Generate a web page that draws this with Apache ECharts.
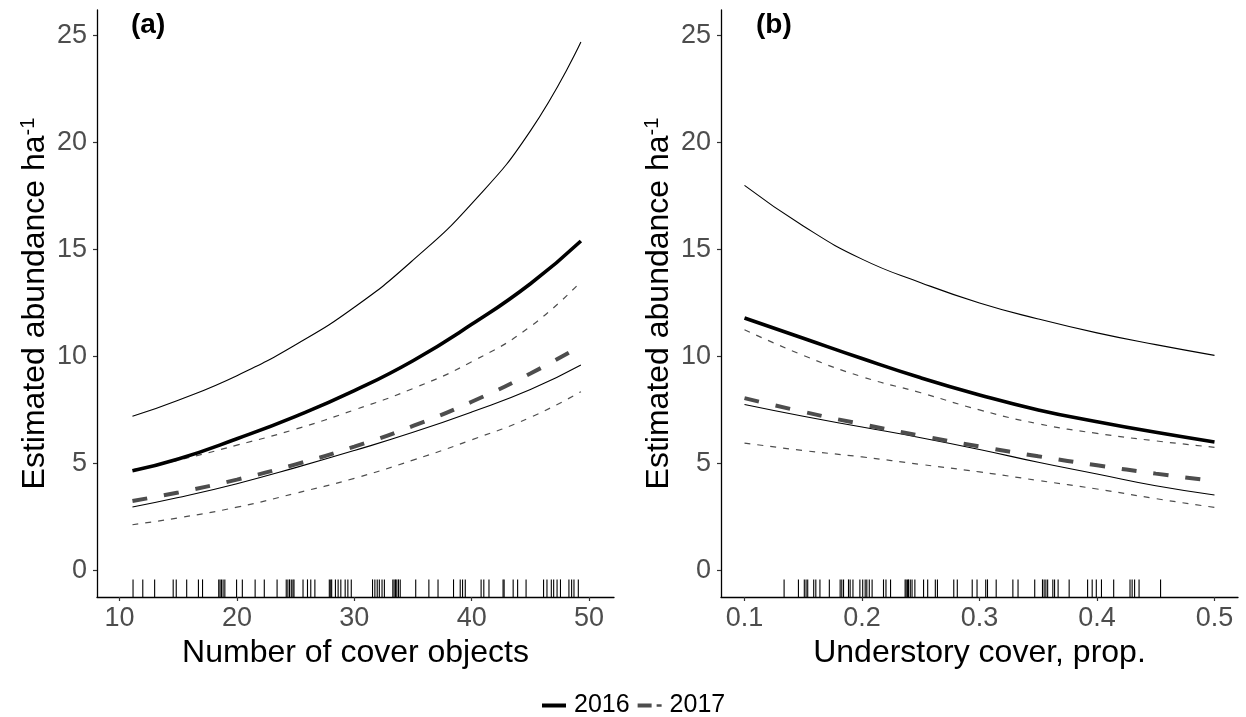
<!DOCTYPE html>
<html>
<head>
<meta charset="utf-8">
<script src="https://cdn.jsdelivr.net/npm/echarts@6/dist/echarts.min.js"></script>
<style>
html,body{margin:0;padding:0;background:#fff;}
#chart{width:1246px;height:717px;}
</style>
</head>
<body>
<div id="chart"></div>
<script>
// ---- Panel (a): Number of cover objects ----
const coverX = [11.1, 15, 20, 25, 30, 35, 40, 45, 49.3];
const cover2016Est = [4.65, 5.2, 6.15, 7.2, 8.4, 9.8, 11.5, 13.4, 15.4];
const cover2016Hi = [7.2, 7.95, 9.1, 10.55, 12.3, 14.5, 17.15, 20.55, 24.7];
const cover2016Lo = [2.96, 3.4, 4.05, 4.8, 5.6, 6.45, 7.4, 8.45, 9.6];
const cover2017Est = [3.24, 3.64, 4.24, 4.95, 5.78, 6.75, 7.88, 9.2, 10.5];
const cover2017Hi = [4.7, 5.15, 5.85, 6.6, 7.5, 8.5, 9.75, 11.4, 13.5];
const cover2017Lo = [2.13, 2.45, 2.95, 3.6, 4.3, 5.15, 6.1, 7.15, 8.35];
const coverRug = [11.15, 11.98, 12.99, 14.57, 14.83, 15.72, 16.72, 17.07, 18.45, 18.56, 18.68, 18.82, 18.97,
  19.97, 20.46, 21.55, 22.33, 23.42, 24.2, 24.34, 24.48, 24.63, 24.77, 24.86, 25.63, 26.01, 26.29, 26.64,
  27.87, 27.99, 28.07, 28.39, 28.62, 28.85, 29.22, 29.45, 29.74, 31.55, 31.75, 31.95, 32.13, 32.36, 32.56,
  33.28, 33.39, 33.51, 33.62, 33.76, 33.91, 35.23, 36.35, 37.13, 38.45, 39.02, 39.22, 39.45, 40.8, 41.03,
  41.47, 42.67, 42.76, 43.53, 43.91, 44.63, 46.12, 46.41, 46.78, 46.98, 47.27, 47.56, 48.28, 48.51, 48.71, 49.08];
const coverTicks = [10, 20, 30, 40, 50];

// ---- Panel (b): Understory cover ----
const underX = [0.1, 0.15, 0.2, 0.25, 0.3, 0.35, 0.4, 0.45, 0.5];
const under2016Est = [11.8, 10.85, 9.9, 9.0, 8.2, 7.5, 6.95, 6.45, 6.0];
const under2016Hi = [18.0, 16.1, 14.55, 13.45, 12.5, 11.75, 11.1, 10.55, 10.05];
const under2016Lo = [7.75, 7.2, 6.7, 6.2, 5.65, 5.05, 4.5, 3.95, 3.52];
const under2017Est = [8.05, 7.41, 6.83, 6.29, 5.79, 5.33, 4.91, 4.52, 4.17];
const under2017Hi = [11.25, 10.05, 9.05, 8.3, 7.5, 6.85, 6.4, 6.05, 5.75];
const under2017Lo = [5.95, 5.6, 5.3, 4.95, 4.6, 4.2, 3.8, 3.35, 2.94];
const underRug = [0.1337, 0.1459, 0.1509, 0.1524, 0.1538, 0.1589, 0.1607, 0.1642, 0.1722, 0.1814, 0.1828,
  0.1843, 0.1885, 0.1899, 0.1923, 0.1982, 0.2006, 0.2027, 0.2041, 0.2062, 0.2086, 0.2183, 0.2204, 0.2243,
  0.2367, 0.2376, 0.2388, 0.2396, 0.2411, 0.2426, 0.245, 0.2524, 0.2559, 0.2624, 0.2642, 0.2781, 0.2811,
  0.2938, 0.2979, 0.3053, 0.3068, 0.3142, 0.3284, 0.3328, 0.347, 0.3536, 0.355, 0.3565, 0.358, 0.3624,
  0.3639, 0.3669, 0.3763, 0.392, 0.3959, 0.3994, 0.4038, 0.4142, 0.4281, 0.4299, 0.432, 0.4358, 0.4541];
const underTicks = [0.1, 0.2, 0.3, 0.4, 0.5];

const yTicks = [0, 5, 10, 15, 20, 25];
const years = ['2016', '2017'];
const xTitles = ['Number of cover objects', 'Understory cover, prop.'];
const panelTags = ['(a)', '(b)'];

const FONT = "'Liberation Sans', Arial, sans-serif";
const chart = echarts.init(document.getElementById('chart'));

const zip = (xs, ys) => xs.map((x, i) => [x, ys[i]]);

const STYLES = {
  est2016: { color: '#000000', width: 3.6, type: 'solid' },
  ci2016: { color: '#000000', width: 1.1, type: 'solid' },
  est2017: { color: '#4d4d4d', width: 4, type: [15, 17] },
  ci2017: { color: '#4d4d4d', width: 1.2, type: [6, 7] }
};

function line(name, xs, ys, idx, st, z) {
  return {
    type: 'line', name: name, xAxisIndex: idx, yAxisIndex: idx,
    data: zip(xs, ys), showSymbol: false, symbol: 'none',
    smooth: 0.5, z: z, silent: true,
    lineStyle: { color: st.color, width: st.width, type: st.type, cap: 'butt' },
    itemStyle: { color: st.color }
  };
}

function rug(values, idx) {
  return {
    type: 'custom', xAxisIndex: idx, yAxisIndex: idx, silent: true, z: 1,
    data: values.map(v => [v, 0]),
    encode: { x: 0, y: 1 },
    renderItem: function (params, api) {
      const cs = params.coordSys;
      const x = api.coord([api.value(0), api.value(1)])[0];
      const yb = cs.y + cs.height;
      return {
        type: 'line',
        shape: { x1: x, y1: yb, x2: x, y2: yb - cs.height * 0.03 },
        style: { stroke: '#000', lineWidth: 1.1 }
      };
    }
  };
}

function xAxis(idx, min, max, ticks) {
  return {
    type: 'value', gridIndex: idx, min: min, max: max,
    axisLine: { show: true, onZero: false, lineStyle: { color: '#000', width: 1.3 } },
    axisTick: { show: true, length: 4, customValues: ticks, lineStyle: { color: '#333', width: 1.2 } },
    axisLabel: { customValues: ticks, fontSize: 27, color: '#4d4d4d', margin: 8, fontFamily: FONT },
    splitLine: { show: false },
    name: xTitles[idx], nameLocation: 'middle', nameGap: 40,
    nameTextStyle: { fontSize: 32, color: '#000', fontFamily: FONT }
  };
}

function yAxis(idx) {
  return {
    type: 'value', gridIndex: idx, min: -1.25, max: 26.2,
    axisLine: { show: true, onZero: false, lineStyle: { color: '#000', width: 1.3 } },
    axisTick: { show: true, length: 4, customValues: yTicks, lineStyle: { color: '#333', width: 1.2 } },
    axisLabel: { customValues: yTicks, fontSize: 27, color: '#4d4d4d', margin: 10, fontFamily: FONT },
    splitLine: { show: false },
    name: 'Estimated abundance ha{sup|-1}', nameLocation: 'middle', nameGap: 45,
    nameTextStyle: {
      fontSize: 32, color: '#000', fontFamily: FONT,
      rich: { sup: { fontSize: 20, color: '#000', fontFamily: FONT, verticalAlign: 'top', padding: [0, 0, 14, 0] } }
    }
  };
}

const option = {
  backgroundColor: '#fff',
  animation: false,
  title: panelTags.map((t, i) => ({
    text: t, left: i === 0 ? 131 : 756, top: 11, padding: 0,
    textStyle: { fontSize: 28, fontWeight: 'bold', color: '#000', fontFamily: FONT }
  })),
  legend: {
    data: [
      { name: years[0], icon: 'path://M0,0H24V4H0Z' },
      { name: years[1], icon: 'path://M0,0H14V4H0Z M19,0.8H24V3.2H19Z' }
    ],
    top: 688, left: 537,
    itemWidth: 24, itemHeight: 4, itemGap: 8,
    textStyle: { fontSize: 25, color: '#000', fontFamily: FONT, padding: [0, 0, 0, 3] }
  },
  grid: [
    { left: 97, top: 10, width: 517, height: 587, containLabel: false },
    { left: 721, top: 10, width: 517, height: 587, containLabel: false }
  ],
  xAxis: [xAxis(0, 8.08, 52.12, coverTicks), xAxis(1, 0.08, 0.52, underTicks)],
  yAxis: [yAxis(0), yAxis(1)],
  series: [
    line('2016 upper', coverX, cover2016Hi, 0, STYLES.ci2016, 3),
    line('2016 lower', coverX, cover2016Lo, 0, STYLES.ci2016, 3),
    line('2017 upper', coverX, cover2017Hi, 0, STYLES.ci2017, 3),
    line('2017 lower', coverX, cover2017Lo, 0, STYLES.ci2017, 3),
    line(years[0], coverX, cover2016Est, 0, STYLES.est2016, 5),
    line(years[1], coverX, cover2017Est, 0, STYLES.est2017, 4),
    rug(coverRug, 0),
    line('2016 upper', underX, under2016Hi, 1, STYLES.ci2016, 3),
    line('2016 lower', underX, under2016Lo, 1, STYLES.ci2016, 3),
    line('2017 upper', underX, under2017Hi, 1, STYLES.ci2017, 3),
    line('2017 lower', underX, under2017Lo, 1, STYLES.ci2017, 3),
    line(years[0], underX, under2016Est, 1, STYLES.est2016, 5),
    line(years[1], underX, under2017Est, 1, STYLES.est2017, 4),
    rug(underRug, 1)
  ]
};
chart.setOption(option);
</script>
</body>
</html>
